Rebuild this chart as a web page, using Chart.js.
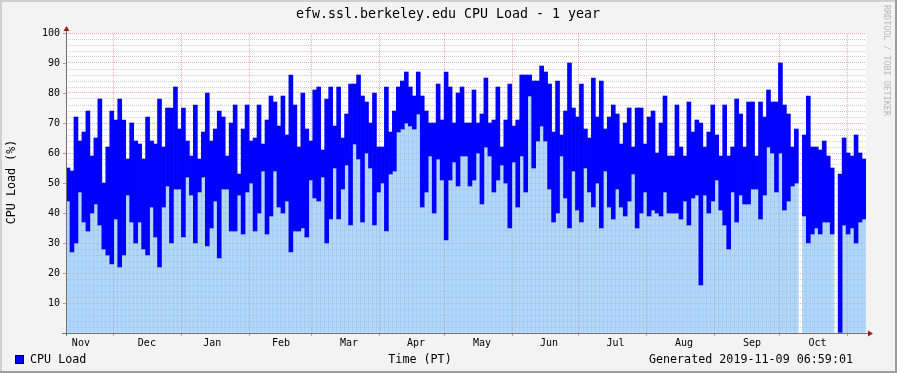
<!DOCTYPE html>
<html lang="en">
<head>
<meta charset="UTF-8">
<title>efw.ssl.berkeley.edu CPU Load - 1 year</title>
<script src="https://cdn.jsdelivr.net/npm/chart.js@4"></script>
<style>
  html, body { margin: 0; padding: 0; background: #f3f3f3; }
  #wrap { width: 897px; height: 373px; }
</style>
</head>
<body>
<div id="wrap"><canvas id="cpu" width="897" height="373"></canvas></div>
<script>
// one bin is roughly 1.8 days (top and bottom of the blue band)
const hiVals = [
  // Nov - Dec
  55,54,72,64,67,74,59,65,78,50,62,74,71,78,71,58,70,64,63,58,72,64,63,78,62,75,75,82,68,75,64,59,76,58,
  // Jan - Feb
  67,80,64,68,74,72,59,70,76,53,68,76,64,65,76,63,71,79,77,69,79,66,86,76,62,80,68,64,81,82,61,78,82,
  // Mar - Apr
  69,82,65,73,83,83,86,79,77,70,80,62,62,82,67,74,82,84,87,82,79,87,79,74,70,70,83,71,87,82,70,80,82,70,
  // May - Jun
  70,81,70,73,85,70,71,82,62,71,83,69,71,86,86,86,84,84,89,87,83,67,84,66,74,90,75,72,83,68,65,85,72,
  // Jul - Aug
  84,68,72,76,73,63,70,75,62,75,75,63,72,74,60,70,79,59,59,76,62,59,77,67,71,70,62,67,76,66,59,76,59,62,
  // Sep - Nov
  78,73,62,77,77,59,77,72,81,77,77,90,76,73,62,68,null,66,79,62,62,61,64,59,55,null,53,65,60,59,66,60,58
];
const loVals = [
  44,27,30,47,37,34,40,43,36,28,26,23,38,22,26,46,37,30,37,28,26,42,32,22,42,49,30,48,48,32,52,46,30,47,
  52,29,35,44,25,48,48,34,34,46,33,47,50,34,40,54,33,39,54,42,40,44,27,34,34,35,32,51,45,44,52,30,38,
  55,38,48,56,36,63,58,37,60,55,36,47,50,34,53,54,67,68,70,69,68,73,42,47,59,40,58,51,31,51,57,49,59,59,
  49,51,60,43,62,59,47,51,56,50,35,57,42,59,47,79,55,64,69,64,48,37,40,59,45,35,54,41,37,55,47,42,50,
  35,54,42,38,48,42,39,44,53,35,40,47,39,41,40,39,47,40,40,40,38,44,36,45,46,16,46,40,44,51,41,36,28,47,
  37,46,43,43,48,48,38,46,62,60,47,60,41,44,49,50,null,39,30,33,35,33,37,37,33,null,0,36,33,35,30,37,38
];

// days since 2018-11-09 07:00
const spanDays = 365;
const monthStartDays = [21.6, 52.6, 83.6, 111.6, 142.6, 172.6, 203.6, 233.6, 264.6, 295.6, 325.5, 356.4];
const monthLabelDays = [6.8, 36.9, 66.7, 98.1, 129.1, 159.7, 189.8, 220.4, 250.7, 282.0, 313.0, 342.9];
const monthNames = ['Nov','Dec','Jan','Feb','Mar','Apr','May','Jun','Jul','Aug','Sep','Oct'];

const MONO = "'DejaVu Sans Mono', monospace";
const minorGrid = 'rgba(150,150,150,0.45)';
const majorGrid = 'rgba(225,110,110,0.55)';

const binLabels = hiVals.map((v, i) => i);

const rrdDecor = {
  id: 'rrdDecor',
  beforeDraw(chart) {
    const { ctx, chartArea: a, width, height } = chart;
    ctx.save();
    ctx.fillStyle = '#f3f3f3';
    ctx.fillRect(0, 0, width, height);
    ctx.fillStyle = '#d0d0d0';
    ctx.fillRect(0, 0, width, 2);
    ctx.fillRect(0, 0, 2, height);
    ctx.fillStyle = '#9e9e9e';
    ctx.fillRect(0, height - 2, width, 2);
    ctx.fillRect(width - 2, 0, 2, height);
    ctx.fillStyle = '#ffffff';
    ctx.fillRect(a.left, a.top, a.right - a.left, a.bottom - a.top);
    ctx.restore();
  },
  beforeDatasetsDraw(chart) {
    // month boundaries, dotted like the horizontal major lines
    const { ctx, chartArea: a } = chart;
    const xm = chart.scales.xm;
    ctx.save();
    ctx.strokeStyle = majorGrid;
    ctx.lineWidth = 1;
    ctx.setLineDash([1, 1]);
    ctx.beginPath();
    monthStartDays.forEach(d => {
      const px = Math.round(xm.getPixelForValue(d)) + 0.5;
      ctx.moveTo(px, a.bottom);
      ctx.lineTo(px, a.top);
    });
    ctx.stroke();
    ctx.restore();
  },
  afterDraw(chart) {
    const { ctx, chartArea: a, width } = chart;
    const xm = chart.scales.xm;
    const y = chart.scales.y;
    ctx.save();

    // little red marks outside the axes
    ctx.strokeStyle = 'rgba(225,110,110,0.8)';
    ctx.lineWidth = 1;
    ctx.beginPath();
    monthStartDays.forEach(d => {
      const px = Math.round(xm.getPixelForValue(d)) + 0.5;
      ctx.moveTo(px, a.bottom);
      ctx.lineTo(px, a.bottom + 3);
    });
    for (let v = 10; v <= 100; v += 10) {
      const py = Math.round(y.getPixelForValue(v)) + 0.5;
      ctx.moveTo(a.left - 3, py);
      ctx.lineTo(a.left, py);
    }
    ctx.stroke();

    // axes
    ctx.strokeStyle = '#707070';
    ctx.beginPath();
    ctx.moveTo(a.left + 0.5, a.bottom + 3);
    ctx.lineTo(a.left + 0.5, a.top - 4);
    ctx.moveTo(a.left - 4, a.bottom + 0.5);
    ctx.lineTo(a.right + 3, a.bottom + 0.5);
    ctx.stroke();

    // arrows
    ctx.fillStyle = '#9c1c1c';
    ctx.beginPath();
    ctx.moveTo(a.left - 2.5, a.top - 2);
    ctx.lineTo(a.left + 3.5, a.top - 2);
    ctx.lineTo(a.left + 0.5, a.top - 7);
    ctx.closePath();
    ctx.fill();
    ctx.beginPath();
    ctx.moveTo(a.right + 2, a.bottom - 2.5);
    ctx.lineTo(a.right + 2, a.bottom + 3.5);
    ctx.lineTo(a.right + 7, a.bottom + 0.5);
    ctx.closePath();
    ctx.fill();

    // title
    ctx.fillStyle = '#000';
    ctx.textBaseline = 'alphabetic';
    ctx.textAlign = 'center';
    ctx.font = '13.3px ' + MONO;
    ctx.fillText('efw.ssl.berkeley.edu CPU Load - 1 year', 448, 18);

    // vertical axis label
    ctx.font = '11.7px ' + MONO;
    ctx.save();
    ctx.translate(15, 182);
    ctx.rotate(-Math.PI / 2);
    ctx.textAlign = 'center';
    ctx.fillText('CPU Load (%)', 0, 0);
    ctx.restore();

    // legend row
    ctx.fillStyle = '#0000ff';
    ctx.fillRect(15, 355, 9, 9);
    ctx.strokeStyle = '#000';
    ctx.strokeRect(15.5, 355.5, 8, 8);
    ctx.fillStyle = '#000';
    ctx.textAlign = 'left';
    ctx.fillText('CPU Load', 30, 363);
    ctx.textAlign = 'center';
    ctx.fillText('Time (PT)', 420, 363);
    ctx.textAlign = 'right';
    ctx.fillText('Generated 2019-11-09 06:59:01', 853, 363);

    // watermark
    ctx.fillStyle = '#b8b8b8';
    ctx.font = '8.4px ' + MONO;
    ctx.save();
    ctx.translate(width - 13, 5);
    ctx.rotate(Math.PI / 2);
    ctx.textAlign = 'left';
    ctx.fillText('RRDTOOL / TOBI OETIKER', 0, 0);
    ctx.restore();

    ctx.restore();
  }
};

new Chart(document.getElementById('cpu'), {
  type: 'bar',
  data: {
    labels: binLabels,
    datasets: [
      {
        label: 'CPU Load',
        data: hiVals.map((h, i) => h === null ? null : [loVals[i], h]),
        backgroundColor: '#0000ff',
        grouped: false,
        barPercentage: 1,
        categoryPercentage: 1,
        borderWidth: 0,
        order: 0
      },
      {
        label: 'area',
        data: loVals.map(l => l === null ? null : [0, l]),
        backgroundColor: 'rgba(130,189,243,0.6)',
        grouped: false,
        barPercentage: 1,
        categoryPercentage: 1,
        borderWidth: 0,
        order: 1
      }
    ]
  },
  options: {
    responsive: false,
    animation: false,
    devicePixelRatio: 1,
    layout: { padding: { top: 33, right: 31, left: 0, bottom: 0 } },
    plugins: { legend: { display: false }, tooltip: { enabled: false } },
    scales: {
      x: { display: false, offset: true },
      xm: {
        type: 'linear', position: 'bottom', min: 0, max: spanDays,
        offset: false,
        afterBuildTicks: s => { s.ticks = monthLabelDays.map(v => ({ value: v })); },
        ticks: {
          autoSkip: false, maxRotation: 0, padding: 4,
          color: '#000', font: { family: MONO, size: 10 },
          callback: (v, i) => monthNames[i]
        },
        grid: { display: false, drawTicks: false, offset: false },
        border: { display: false },
        afterFit: s => { s.height = 40; }
      },
      y: {
        min: 0, max: 100,
        ticks: {
          stepSize: 2, autoSkip: false, padding: 6,
          color: '#000', font: { family: MONO, size: 10 },
          callback: v => (v % 10 === 0 && v > 0) ? v : ''
        },
        grid: {
          drawTicks: false, lineWidth: 1,
          color: c => (c.tick && c.tick.value % 10 === 0) ? majorGrid : minorGrid
        },
        border: { display: false, dash: [1, 1] },
        afterFit: s => { s.width = 66; }
      }
    }
  },
  plugins: [rrdDecor]
});
</script>
</body>
</html>
